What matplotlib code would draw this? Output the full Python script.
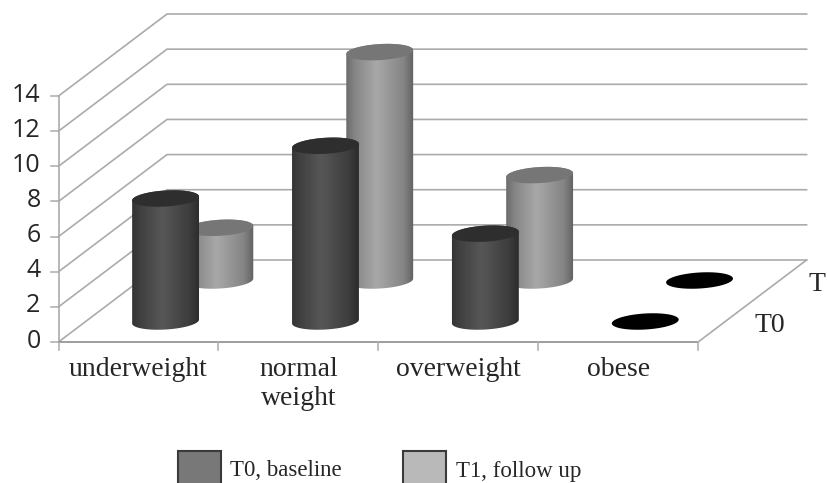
import numpy as np
import matplotlib
matplotlib.use('Agg')
import matplotlib.pyplot as plt
from matplotlib.patches import Polygon, Rectangle

categorias = ['underweight', 'normal\nweight', 'overweight', 'obese']
t0 = [7, 10, 5, 0]
t1 = [3, 13, 6, 0]
ticks_y = [0, 2, 4, 6, 8, 10, 12, 14]
profundidade = ['T0', 'T1']
legenda = ['T0, baseline', 'T1, follow up']

# projecao obliqua: categoria, profundidade e valor para a tela
X0, Y0 = 58.5, 342
LARG_CAT = 159.9
DX, DY = 108.5, -82
ESCALA = 17.57


def proj(cat, prof, valor):
    return X0 + LARG_CAT * cat + DX * prof, Y0 + DY * prof - ESCALA * valor


def elipse(cx, cy, a=33.5, b=8, ang=-3.5):
    t = np.linspace(0, 2 * np.pi, 120)
    r = np.radians(ang)
    x = a * np.cos(t)
    y = b * np.sin(t)
    return np.c_[cx + x * np.cos(r) - y * np.sin(r), cy + x * np.sin(r) + y * np.cos(r)]


def cilindro(cx, y_base, y_topo, cores, cor_topo, z):
    base = elipse(cx, y_base)
    topo = elipse(cx, y_topo)
    # corpo = metade de baixo da base + metade de cima do topo
    corpo = np.vstack([base[:60], topo[60:]])
    grad = np.interp(np.linspace(0, 1, 200), [0, 0.12, 0.45, 0.85, 1], cores)
    im = ax.imshow(grad[None, :], extent=(cx - 34, cx + 34, y_base + 12, y_topo - 12), aspect='auto',
                   cmap='gray', vmin=0, vmax=1, zorder=z, interpolation='bilinear')
    im.set_clip_path(Polygon(corpo, transform=ax.transData))
    ax.add_patch(Polygon(topo, fc=cor_topo, ec='none', zorder=z + 0.1))


fig = plt.figure(figsize=(8.27, 4.83), dpi=100)
ax = fig.add_axes([0, 0, 1, 1])

cor_linha = '#ababab'
cor_texto = '#262626'

# paredes e grade
for v in ticks_y:
    xa, ya = proj(0, 0, v)
    xb, yb = proj(0, 1, v)
    xc, yc = proj(4, 1, v)
    ax.plot([xa, xb, xc], [ya, yb, yc], color=cor_linha, lw=1.2, zorder=1)
    ax.plot([xa - 8, xa], [ya, ya], color=cor_linha, lw=1.1, zorder=1)
    ax.text(xa - 18, ya - 1, str(v), ha='right', va='center', fontsize=18, family='Open Sans', color=cor_texto)

xa, ya = proj(0, 0, 0)
xb, yb = proj(0, 0, ticks_y[-1])
ax.plot([xa, xb], [ya, yb], color=cor_linha, lw=1.2, zorder=1)
xb, yb = proj(4, 0, 0)
ax.plot([xa, xb], [ya, yb], color='#8c8c8c', lw=1.2, zorder=1)
xc, yc = proj(4, 1, 0)
ax.plot([xb, xc], [yb, yc], color=cor_linha, lw=1.2, zorder=1)

# marcas e rotulos do eixo x
for i in range(5):
    x, y = proj(i, 0, 0)
    ax.plot([x, x], [y, y + 8], color=cor_linha, lw=1.1, zorder=1)
for i, c in enumerate(categorias):
    x, y = proj(i + 0.5, 0, 0)
    ax.text(x, y + 15, c, ha='center', va='top', fontsize=20, family='Liberation Serif', color=cor_texto,
            linespacing=1.2)

# rotulos de profundidade
for i, p in enumerate(profundidade):
    x, y = proj(4, i * 0.5 + 0.25, 0)
    ax.text(x + 29, y + 4, p, ha='left', va='center', fontsize=20, family='Liberation Serif', color=cor_texto)

# cilindros, de tras para frente
cores_t0 = [0.20, 0.25, 0.34, 0.24, 0.17]
cores_t1 = [0.42, 0.52, 0.66, 0.52, 0.38]
z = 2
for serie, prof, cores, cor_topo in [(t1, 0.75, cores_t1, '#767676'), (t0, 0.25, cores_t0, '#2e2e2e')]:
    for i, v in enumerate(serie):
        x, yb = proj(i + 0.5, prof, 0)
        x, yt = proj(i + 0.5, prof, v)
        if v == 0:
            ax.add_patch(Polygon(elipse(x, yb), fc='black', ec='none', zorder=z))
        else:
            cilindro(x, yb, yt, cores, cor_topo, z)
        z += 1

# legenda
cores_leg = ['#787878', '#b9b9b9']
for (x_box, x_txt), txt, cor in zip([(178, 230), (403, 456)], legenda, cores_leg):
    ax.add_patch(Rectangle((x_box, 451), 43, 40, fc=cor, ec='#3a3a3a', lw=1.5, zorder=z))
    ax.text(x_txt, 471, txt, ha='left', va='center', fontsize=16.5, family='Liberation Serif', color=cor_texto)

ax.set_xlim(0, 827)
ax.set_ylim(483, 0)
ax.axis('off')
fig.savefig('out.png', dpi=100)
